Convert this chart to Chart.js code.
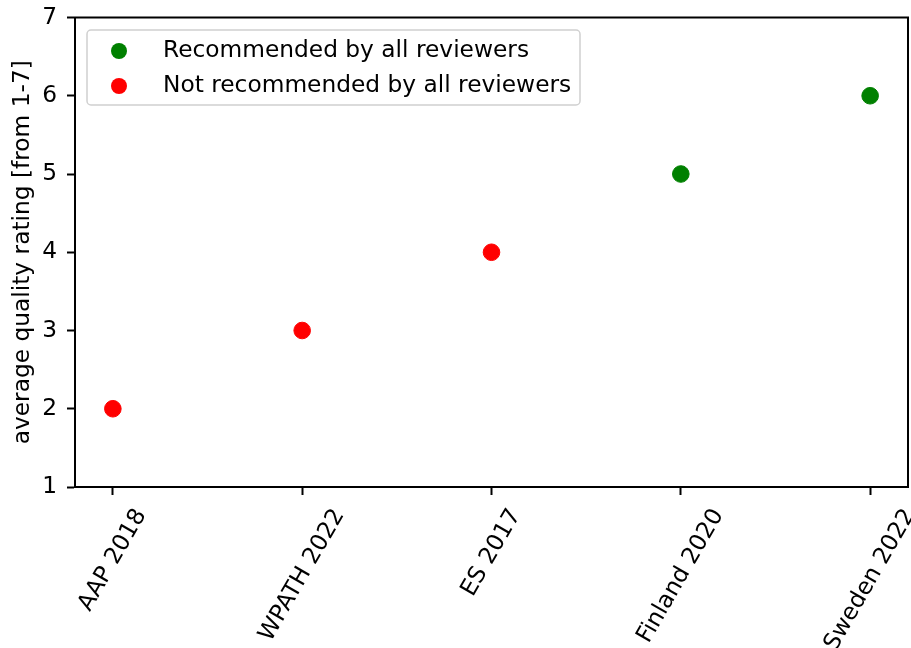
<!DOCTYPE html>
<html>
<head>
<meta charset="utf-8">
<script src="https://cdn.jsdelivr.net/npm/chart.js@4.4.1/dist/chart.umd.min.js"></script>
<style>
  html, body { margin: 0; padding: 0; background: #fff; }
  #wrap { width: 911px; height: 648px; }
</style>
</head>
<body>
<div id="wrap"><canvas id="ratingChart" width="911" height="648"></canvas></div>
<script>
// guideline names, in x order
const guidelines = ['AAP 2018', 'WPATH 2022', 'ES 2017', 'Finland 2020', 'Sweden 2022'];
// average quality rating (1-7)
const ratings = [2, 3, 4, 5, 6];
// recommended by all reviewers?
const recommended = [false, false, false, true, true];
const yTicks = [1, 2, 3, 4, 5, 6, 7];

const FONT = 'DejaVu Sans';
const FSIZE = 23.3;

function pointsFor(flag) {
    const pts = [];
    guidelines.forEach((g, i) => {
        if (recommended[i] === flag) pts.push({ x: i, y: ratings[i] });
    });
    return pts;
}

// box around the plot + rotated x labels + legend inside the axes
const matplotlibLook = {
    id: 'matplotlibLook',
    afterDraw(chart) {
        const ctx = chart.ctx;
        const a = chart.chartArea;
        const xs = chart.scales.x;

        ctx.save();
        ctx.strokeStyle = '#000';
        ctx.lineWidth = 2;
        ctx.strokeRect(a.left, a.top, a.right - a.left, a.bottom - a.top);

        // x tick labels, rotated 60deg, bbox centred under the tick
        ctx.font = FSIZE + 'px "' + FONT + '"';
        ctx.fillStyle = '#000';
        ctx.textAlign = 'center';
        ctx.textBaseline = 'middle';
        const ang = 60 * Math.PI / 180;
        const h = FSIZE * 0.9;
        guidelines.forEach((g, i) => {
            const x = xs.getPixelForValue(i);
            const w = ctx.measureText(g).width;
            const bh = w * Math.sin(ang) + h * Math.cos(ang);
            const cy = a.bottom + 19 + bh / 2;
            ctx.save();
            ctx.translate(x, cy);
            ctx.rotate(-ang);
            ctx.fillText(g, 0, 0);
            ctx.restore();
        });

        // legend
        const lx = 87, ly = 30, lw = 493, lh = 75;
        ctx.beginPath();
        ctx.roundRect(lx, ly, lw, lh, 4);
        ctx.fillStyle = 'rgba(255,255,255,0.8)';
        ctx.fill();
        ctx.strokeStyle = '#d0d0d0';
        ctx.lineWidth = 1.5;
        ctx.stroke();

        ctx.textAlign = 'left';
        chart.data.datasets.forEach((ds, k) => {
            const cy = ly + 21 + k * 35;
            ctx.beginPath();
            ctx.arc(lx + 32, cy, 8, 0, Math.PI * 2);
            ctx.fillStyle = ds.backgroundColor;
            ctx.fill();
            ctx.fillStyle = '#000';
            ctx.fillText(ds.label, lx + 76, cy);
        });
        ctx.restore();
    }
};

const ctx = document.getElementById('ratingChart').getContext('2d');
const ratingChart = new Chart(ctx, {
    type: 'scatter',
    data: {
        datasets: [{
            label: 'Recommended by all reviewers',
            data: pointsFor(true),
            backgroundColor: '#008000',
            borderColor: '#008000',
            pointRadius: 8.3,
            pointHoverRadius: 8.3
        }, {
            label: 'Not recommended by all reviewers',
            data: pointsFor(false),
            backgroundColor: '#ff0000',
            borderColor: '#ff0000',
            pointRadius: 8.3,
            pointHoverRadius: 8.3
        }]
    },
    options: {
        responsive: false,
        animation: false,
        events: [],
        layout: {
            autoPadding: false,
            padding: { top: 17.5, right: 3, left: 0, bottom: 0 }
        },
        plugins: {
            legend: { display: false },
            tooltip: { enabled: false }
        },
        scales: {
            x: {
                type: 'linear',
                min: -0.2,
                max: 4.2,
                afterBuildTicks: scale => {
                    scale.ticks = guidelines.map((g, i) => ({ value: i }));
                },
                afterFit: scale => {
                    scale.height = 648 - 487;
                    scale.paddingLeft = 0;
                    scale.paddingRight = 0;
                },
                grid: {
                    drawOnChartArea: false,
                    drawTicks: true,
                    tickLength: 8,
                    tickWidth: 2,
                    tickColor: '#000'
                },
                border: { display: true, color: '#000', width: 2 },
                ticks: { display: false }
            },
            y: {
                min: 1,
                max: 7,
                afterBuildTicks: scale => {
                    scale.ticks = yTicks.map(v => ({ value: v }));
                },
                afterFit: scale => {
                    scale.width = 75;
                    scale.paddingTop = 0;
                    scale.paddingBottom = 0;
                },
                grid: {
                    drawOnChartArea: false,
                    drawTicks: true,
                    tickLength: 8,
                    tickWidth: 2,
                    tickColor: '#000'
                },
                border: { display: true, color: '#000', width: 2 },
                ticks: {
                    color: '#000',
                    padding: 10,
                    font: { family: FONT, size: FSIZE }
                },
                title: {
                    display: true,
                    text: 'average quality rating [from 1-7]',
                    color: '#000',
                    font: { family: FONT, size: FSIZE },
                    padding: { top: 9, bottom: 0 }
                }
            }
        }
    },
    plugins: [matplotlibLook]
});
</script>
</body>
</html>
